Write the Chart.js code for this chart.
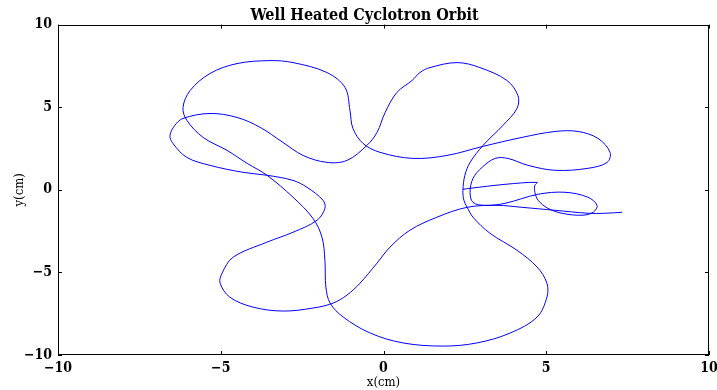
<!DOCTYPE html>
<html>
<head>
<meta charset="utf-8">
<script src="https://cdn.jsdelivr.net/npm/chart.js@4/dist/chart.umd.min.js"></script>
<style>
html,body{margin:0;padding:0;background:#fff;}
#wrap{width:717px;height:390px;position:relative;}
</style>
</head>
<body>
<div id="wrap"><canvas id="c" width="717" height="390"></canvas></div>
<script>
const titleText = "Well Heated Cyclotron Orbit";
const xLabel = "x(cm)";
const yLabel = "y(cm)";
const xTickValues = [-10, -5, 0, 5, 10];
const yTickValues = [-10, -5, 0, 5, 10];

// orbit x positions (cm), in drawing order
const orbitX = [7.33, 6.80, 6.28, 5.27, 4.25, 3.49, 2.57, 1.64, 0.81, 0.20,
  -0.20, -0.72, -1.12, -1.55, -2.17, -3.09, -4.01, -4.72, -5.02, -4.96,
  -4.62, -3.58, -2.78, -2.04, -1.80, -1.86, -2.35, -2.78, -3.58, -4.32,
  -5.33, -6.04, -6.47, -6.56, -6.41, -6.16, -5.33, -4.50, -3.79, -3.09,
  -2.47, -1.74, -1.12, -0.51, -0.20, 0.05, 0.41, 0.88, 1.12, 1.43,
  2.26, 2.96, 3.79, 4.13, 4.10, 3.67, 3.06, 2.66, 2.50, 2.44,
  2.47, 2.57, 2.75, 3.27, 4.10, 4.72, 5.02, 5.02, 4.72, 3.89,
  2.87, 1.83, 0.60, -0.41, -1.24, -1.64, -1.77, -1.80, -1.89, -2.17,
  -2.78, -3.58, -4.19, -4.81, -5.54, -6.04, -6.16, -5.94, -5.33, -4.50,
  -3.49, -2.78, -1.74, -1.18, -1.03, -0.94, -0.63, -0.11, 0.91, 1.95,
  3.06, 4.25, 5.27, 5.98, 6.59, 6.96, 6.87, 6.28, 5.27, 4.44,
  3.82, 3.43, 3.03, 2.75, 2.66, 2.75, 3.12, 3.73, 4.75, 5.58,
  6.28, 6.56, 6.44, 6.10, 5.48, 5.05, 4.75, 4.65, 4.65, 4.72,
  3.73, 2.66, 2.44];

// orbit y positions (cm), in drawing order
const orbitY = [-1.36, -1.42, -1.42, -1.24, -1.06, -0.94, -1.06, -1.66, -2.45, -3.47,
  -4.44, -5.65, -6.37, -6.86, -7.16, -7.34, -7.10, -6.50, -5.65, -5.05,
  -4.08, -3.17, -2.57, -1.84, -1.12, -0.63, 0.15, 0.57, 0.88, 1.06,
  1.48, 1.96, 2.81, 3.29, 3.90, 4.32, 4.62, 4.38, 3.78, 2.87,
  2.08, 1.66, 1.78, 2.69, 3.47, 4.68, 5.89, 6.62, 7.10, 7.40,
  7.70, 7.40, 6.62, 5.71, 4.92, 3.90, 2.69, 1.66, 0.88, -0.03,
  -0.63, -1.06, -1.66, -2.63, -3.66, -4.68, -5.65, -6.50, -7.70, -8.67,
  -9.27, -9.46, -9.27, -8.67, -7.70, -6.86, -5.89, -4.26, -2.87, -1.72,
  -0.45, 0.88, 1.60, 2.39, 3.17, 4.20, 4.98, 6.01, 7.04, 7.64,
  7.82, 7.70, 7.10, 6.19, 4.80, 3.72, 2.81, 2.27, 1.90, 2.08,
  2.63, 3.17, 3.53, 3.53, 3.11, 2.27, 1.66, 1.30, 1.18, 1.48,
  1.90, 1.90, 1.36, 0.69, -0.15, -0.76, -0.94, -0.82, -0.27, -0.15,
  -0.45, -0.94, -1.36, -1.54, -1.42, -1.12, -0.63, -0.15, 0.27, 0.45,
  0.33, 0.09, 0.03];

const points = orbitX.map((x, i) => ({x: x, y: orbitY[i]}));
const serif = "'DejaVu Serif Condensed', 'DejaVu Serif', serif";
const fmt = v => String(v).replace('-', '\u2212');

const frame = {
  id: 'frame',
  afterDraw(chart) {
    const {ctx, chartArea: a, scales} = chart;
    ctx.save();
    ctx.strokeStyle = '#000';
    ctx.lineWidth = 1;
    ctx.strokeRect(Math.round(a.left) + 0.5, Math.round(a.top) + 0.5,
      Math.round(a.right - a.left) - 1, Math.round(a.bottom - a.top) - 1);
    ctx.beginPath();
    const L = 4;
    xTickValues.forEach(v => {
      const p = Math.round(scales.x.getPixelForValue(v)) + 0.5;
      ctx.moveTo(p, a.top); ctx.lineTo(p, a.top + L);
      ctx.moveTo(p, a.bottom); ctx.lineTo(p, a.bottom - L);
    });
    yTickValues.forEach(v => {
      const p = Math.round(scales.y.getPixelForValue(v)) + 0.5;
      ctx.moveTo(a.left, p); ctx.lineTo(a.left + L, p);
      ctx.moveTo(a.right, p); ctx.lineTo(a.right - L, p);
    });
    ctx.stroke();
    ctx.restore();
  }
};

new Chart(document.getElementById('c'), {
  type: 'scatter',
  data: {
    datasets: [{
      data: points,
      showLine: true,
      borderColor: '#0000ff',
      borderWidth: 1,
      pointRadius: 0,
      tension: 0.35,
      fill: false
    }]
  },
  options: {
    responsive: false,
    animation: false,
    layout: {padding: {left: 12, right: 0, top: 0, bottom: 0}},
    plugins: {
      legend: {display: false},
      tooltip: {enabled: false},
      title: {
        display: true,
        text: titleText,
        color: '#000',
        font: {family: serif, size: 16, weight: 'bold', lineHeight: 1.1},
        padding: {top: 7, bottom: 0}
      }
    },
    scales: {
      x: {
        type: 'linear',
        min: -10, max: 10,
        afterBuildTicks: s => { s.ticks = xTickValues.map(v => ({value: v})); },
        afterFit: s => { s.height = 35; s.paddingRight = 8; s.paddingLeft = 0; },
        grid: {drawOnChartArea: false, drawTicks: false},
        border: {display: false},
        ticks: {color: '#000', padding: 5, maxRotation: 0,
          font: {family: serif, size: 14, weight: 'bold'}, callback: v => fmt(v)},
        title: {display: true, text: xLabel, color: '#000', padding: {top: 0, bottom: 0},
          font: {family: serif, size: 13}}
      },
      y: {
        type: 'linear',
        min: -10, max: 10,
        afterBuildTicks: s => { s.ticks = yTickValues.map(v => ({value: v})); },
        afterFit: s => { s.width = 46; s.paddingTop = 0; s.paddingBottom = 0; },
        grid: {drawOnChartArea: false, drawTicks: false},
        border: {display: false},
        ticks: {color: '#000', padding: 6,
          font: {family: serif, size: 14, weight: 'bold'}, callback: v => fmt(v)},
        title: {display: true, text: yLabel, color: '#000', padding: {top: 0, bottom: 0},
          font: {family: serif, size: 13}}
      }
    }
  },
  plugins: [frame]
});
</script>
</body>
</html>
